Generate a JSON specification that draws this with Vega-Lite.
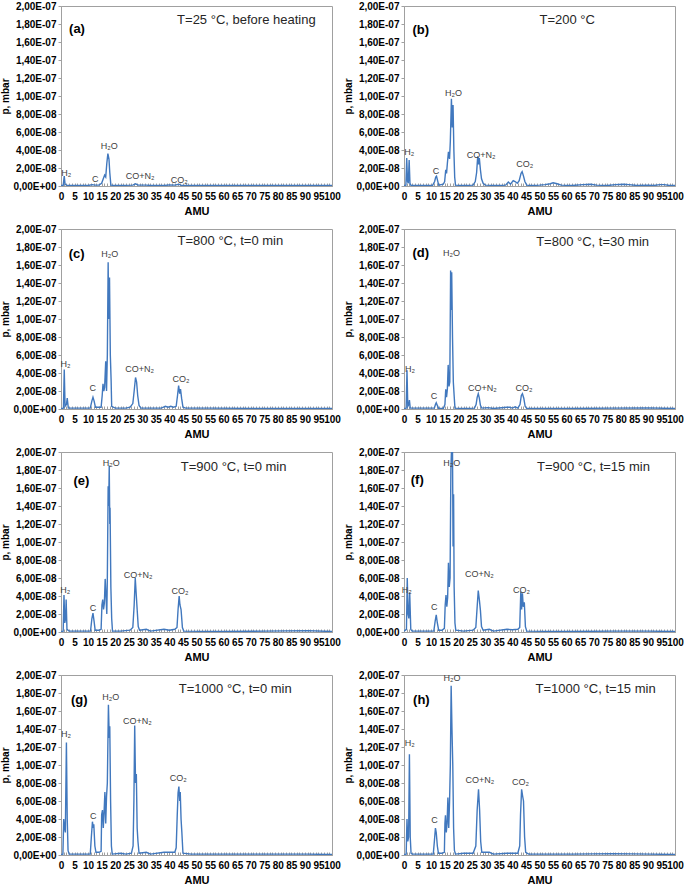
{
"$schema": "https://vega.github.io/schema/vega-lite/v6.json",
"padding": {"left": 0, "top": 0, "right": 0, "bottom": 0},
"background": "white",
"data": {"values": [
{"g":"a","x":0,"p":5e-10},{"g":"a","x":0.8,"p":5e-10},{"g":"a","x":1.2,"p":1.1e-8},{"g":"a","x":1.5,"p":2e-9},{"g":"a","x":2,"p":1e-9},{"g":"a","x":3,"p":5e-10},{"g":"a","x":10,"p":5e-10},{"g":"a","x":11.5,"p":1.5e-9},{"g":"a","x":12.5,"p":1e-9},{"g":"a","x":14,"p":1e-9},{"g":"a","x":15,"p":3e-9},{"g":"a","x":15.6,"p":8e-9},{"g":"a","x":16.1,"p":1.2e-8},{"g":"a","x":16.5,"p":1e-8},{"g":"a","x":16.9,"p":2.5e-8},{"g":"a","x":17.3,"p":3.6e-8},{"g":"a","x":17.7,"p":3e-8},{"g":"a","x":18,"p":1.5e-8},{"g":"a","x":18.4,"p":1e-9},{"g":"a","x":20,"p":5e-10},{"g":"a","x":26.5,"p":1e-9},{"g":"a","x":27.5,"p":2.5e-9},{"g":"a","x":28.5,"p":1e-9},{"g":"a","x":31.5,"p":1e-9},{"g":"a","x":33,"p":5e-10},{"g":"a","x":38,"p":5e-10},{"g":"a","x":40,"p":1.2e-9},{"g":"a","x":42,"p":1e-9},{"g":"a","x":43.5,"p":2e-9},{"g":"a","x":44.5,"p":5e-10},{"g":"a","x":50,"p":5e-10},{"g":"a","x":75,"p":5e-10},{"g":"a","x":100,"p":5e-10},
{"g":"b","x":0,"p":5e-10},{"g":"b","x":0.7,"p":1e-9},{"g":"b","x":1,"p":3.1e-8},{"g":"b","x":1.3,"p":5e-9},{"g":"b","x":1.6,"p":3e-9},{"g":"b","x":1.9,"p":2.9e-8},{"g":"b","x":2.2,"p":3e-9},{"g":"b","x":2.6,"p":5e-10},{"g":"b","x":10.5,"p":5e-10},{"g":"b","x":11.3,"p":5e-9},{"g":"b","x":11.7,"p":1e-8},{"g":"b","x":12,"p":1.1e-8},{"g":"b","x":12.4,"p":6e-9},{"g":"b","x":12.8,"p":1e-9},{"g":"b","x":14.5,"p":2e-9},{"g":"b","x":15,"p":5e-9},{"g":"b","x":15.4,"p":1.8e-8},{"g":"b","x":15.7,"p":1.4e-8},{"g":"b","x":16,"p":2.5e-8},{"g":"b","x":16.4,"p":3.8e-8},{"g":"b","x":16.8,"p":3e-8},{"g":"b","x":17.1,"p":5e-8},{"g":"b","x":17.5,"p":9.7e-8},{"g":"b","x":17.8,"p":6.5e-8},{"g":"b","x":18.1,"p":9e-8},{"g":"b","x":18.4,"p":4e-8},{"g":"b","x":18.7,"p":1e-8},{"g":"b","x":19,"p":1e-9},{"g":"b","x":22,"p":5e-10},{"g":"b","x":25.5,"p":1e-9},{"g":"b","x":26.3,"p":5e-9},{"g":"b","x":26.8,"p":1.5e-8},{"g":"b","x":27.2,"p":3.3e-8},{"g":"b","x":27.5,"p":2.4e-8},{"g":"b","x":27.8,"p":3.1e-8},{"g":"b","x":28.2,"p":1.8e-8},{"g":"b","x":28.6,"p":8e-9},{"g":"b","x":29.2,"p":3e-9},{"g":"b","x":30,"p":1e-9},{"g":"b","x":35,"p":5e-10},{"g":"b","x":37.5,"p":1e-9},{"g":"b","x":38.5,"p":4.5e-9},{"g":"b","x":39.3,"p":2e-9},{"g":"b","x":40.3,"p":6e-9},{"g":"b","x":41,"p":5e-9},{"g":"b","x":41.8,"p":3e-9},{"g":"b","x":42.5,"p":6e-9},{"g":"b","x":43.2,"p":1.4e-8},{"g":"b","x":43.6,"p":1.6e-8},{"g":"b","x":44.1,"p":1.1e-8},{"g":"b","x":44.6,"p":5e-9},{"g":"b","x":45.3,"p":1e-9},{"g":"b","x":47,"p":5e-10},{"g":"b","x":50,"p":1e-9},{"g":"b","x":52,"p":1.5e-9},{"g":"b","x":54,"p":2.5e-9},{"g":"b","x":55,"p":3.5e-9},{"g":"b","x":56.5,"p":2.5e-9},{"g":"b","x":58,"p":1e-9},{"g":"b","x":62,"p":5e-10},{"g":"b","x":66,"p":1.5e-9},{"g":"b","x":69,"p":2e-9},{"g":"b","x":71,"p":1e-9},{"g":"b","x":75,"p":5e-10},{"g":"b","x":78,"p":1.5e-9},{"g":"b","x":81,"p":2e-9},{"g":"b","x":83,"p":1.5e-9},{"g":"b","x":86,"p":5e-10},{"g":"b","x":90,"p":1e-9},{"g":"b","x":92,"p":5e-10},{"g":"b","x":94.5,"p":1.5e-9},{"g":"b","x":96,"p":1.5e-9},{"g":"b","x":98,"p":5e-10},{"g":"b","x":100,"p":5e-10},
{"g":"c","x":0,"p":5e-10},{"g":"c","x":0.9,"p":1e-9},{"g":"c","x":1.2,"p":4.4e-8},{"g":"c","x":1.5,"p":3e-9},{"g":"c","x":2,"p":5e-9},{"g":"c","x":2.3,"p":1.2e-8},{"g":"c","x":2.7,"p":1e-9},{"g":"c","x":5,"p":1e-9},{"g":"c","x":8,"p":1e-9},{"g":"c","x":10.8,"p":1e-9},{"g":"c","x":11.4,"p":9e-9},{"g":"c","x":11.8,"p":1.3e-8},{"g":"c","x":12.2,"p":9e-9},{"g":"c","x":12.7,"p":2e-9},{"g":"c","x":14,"p":2e-9},{"g":"c","x":14.8,"p":2e-9},{"g":"c","x":15.2,"p":1.5e-8},{"g":"c","x":15.5,"p":2.8e-8},{"g":"c","x":15.8,"p":2e-8},{"g":"c","x":16.1,"p":2.4e-8},{"g":"c","x":16.5,"p":5.3e-8},{"g":"c","x":16.8,"p":2e-8},{"g":"c","x":17.1,"p":6e-8},{"g":"c","x":17.4,"p":1.63e-7},{"g":"c","x":17.6,"p":1e-7},{"g":"c","x":17.9,"p":1.46e-7},{"g":"c","x":18.2,"p":6e-8},{"g":"c","x":18.5,"p":3.1e-8},{"g":"c","x":18.7,"p":3e-9},{"g":"c","x":20,"p":1e-9},{"g":"c","x":24,"p":1e-9},{"g":"c","x":25.5,"p":2e-9},{"g":"c","x":26.5,"p":6e-9},{"g":"c","x":27,"p":2e-8},{"g":"c","x":27.5,"p":3.5e-8},{"g":"c","x":27.9,"p":3e-8},{"g":"c","x":28.3,"p":1.5e-8},{"g":"c","x":28.8,"p":4e-9},{"g":"c","x":29.5,"p":1e-9},{"g":"c","x":32,"p":1e-9},{"g":"c","x":37,"p":1e-9},{"g":"c","x":38.5,"p":3e-9},{"g":"c","x":39.5,"p":2e-9},{"g":"c","x":40.5,"p":3e-9},{"g":"c","x":41.5,"p":2e-9},{"g":"c","x":42.5,"p":3e-9},{"g":"c","x":43,"p":1.5e-8},{"g":"c","x":43.4,"p":2.6e-8},{"g":"c","x":43.8,"p":1.7e-8},{"g":"c","x":44.1,"p":2.2e-8},{"g":"c","x":44.5,"p":1.2e-8},{"g":"c","x":45,"p":2e-9},{"g":"c","x":46,"p":1e-9},{"g":"c","x":55,"p":1e-9},{"g":"c","x":80,"p":5e-10},{"g":"c","x":100,"p":5e-10},
{"g":"d","x":0,"p":5e-10},{"g":"d","x":0.8,"p":1e-9},{"g":"d","x":1.1,"p":4.3e-8},{"g":"d","x":1.4,"p":3e-9},{"g":"d","x":1.8,"p":5e-9},{"g":"d","x":2,"p":1e-8},{"g":"d","x":2.3,"p":1e-9},{"g":"d","x":8,"p":1e-9},{"g":"d","x":11.2,"p":1e-9},{"g":"d","x":11.6,"p":5e-9},{"g":"d","x":11.9,"p":7e-9},{"g":"d","x":12.3,"p":4e-9},{"g":"d","x":12.8,"p":5e-10},{"g":"d","x":14.5,"p":5e-10},{"g":"d","x":15.1,"p":5e-9},{"g":"d","x":15.4,"p":2.2e-8},{"g":"d","x":15.7,"p":1.3e-8},{"g":"d","x":16,"p":2.2e-8},{"g":"d","x":16.3,"p":4.9e-8},{"g":"d","x":16.6,"p":2.5e-8},{"g":"d","x":16.9,"p":3e-8},{"g":"d","x":17.2,"p":1.54e-7},{"g":"d","x":17.4,"p":1.1e-7},{"g":"d","x":17.6,"p":1.52e-7},{"g":"d","x":17.9,"p":8e-8},{"g":"d","x":18.2,"p":3e-8},{"g":"d","x":18.5,"p":1.5e-8},{"g":"d","x":18.8,"p":1e-9},{"g":"d","x":22,"p":5e-10},{"g":"d","x":26,"p":1e-9},{"g":"d","x":26.6,"p":5e-9},{"g":"d","x":27,"p":1.3e-8},{"g":"d","x":27.4,"p":1.7e-8},{"g":"d","x":27.8,"p":1.2e-8},{"g":"d","x":28.2,"p":4e-9},{"g":"d","x":28.7,"p":1e-9},{"g":"d","x":31,"p":1.5e-9},{"g":"d","x":33,"p":5e-10},{"g":"d","x":38,"p":2e-9},{"g":"d","x":39,"p":2e-9},{"g":"d","x":40,"p":1e-9},{"g":"d","x":41,"p":2.5e-9},{"g":"d","x":42,"p":1e-9},{"g":"d","x":42.8,"p":5e-9},{"g":"d","x":43.3,"p":1.5e-8},{"g":"d","x":43.7,"p":1.7e-8},{"g":"d","x":44.2,"p":1.2e-8},{"g":"d","x":44.7,"p":3e-9},{"g":"d","x":45.3,"p":5e-10},{"g":"d","x":60,"p":5e-10},{"g":"d","x":77,"p":1e-9},{"g":"d","x":90,"p":1.2e-9},{"g":"d","x":100,"p":5e-10},
{"g":"e","x":0,"p":5e-10},{"g":"e","x":0.8,"p":1e-9},{"g":"e","x":1.1,"p":4.1e-8},{"g":"e","x":1.4,"p":1e-8},{"g":"e","x":1.7,"p":1.5e-8},{"g":"e","x":1.9,"p":3.6e-8},{"g":"e","x":2.2,"p":3e-9},{"g":"e","x":3,"p":1e-9},{"g":"e","x":8,"p":1e-9},{"g":"e","x":10.9,"p":1e-9},{"g":"e","x":11.4,"p":1.5e-8},{"g":"e","x":11.8,"p":2.1e-8},{"g":"e","x":12.2,"p":1.2e-8},{"g":"e","x":12.6,"p":2e-9},{"g":"e","x":14,"p":2e-9},{"g":"e","x":14.8,"p":3e-9},{"g":"e","x":15.1,"p":3e-8},{"g":"e","x":15.4,"p":3.6e-8},{"g":"e","x":15.7,"p":2.5e-8},{"g":"e","x":16,"p":3.2e-8},{"g":"e","x":16.3,"p":5.9e-8},{"g":"e","x":16.6,"p":4e-8},{"g":"e","x":16.9,"p":2e-8},{"g":"e","x":17.1,"p":6e-8},{"g":"e","x":17.4,"p":1.62e-7},{"g":"e","x":17.6,"p":1.4e-7},{"g":"e","x":17.8,"p":1.85e-7},{"g":"e","x":18,"p":1.2e-7},{"g":"e","x":18.1,"p":1.38e-7},{"g":"e","x":18.4,"p":5e-8},{"g":"e","x":18.7,"p":1.5e-8},{"g":"e","x":19,"p":1e-9},{"g":"e","x":22,"p":1e-9},{"g":"e","x":25.5,"p":2e-9},{"g":"e","x":26.5,"p":5e-9},{"g":"e","x":27,"p":3e-8},{"g":"e","x":27.4,"p":6e-8},{"g":"e","x":27.8,"p":4e-8},{"g":"e","x":28.1,"p":2.5e-8},{"g":"e","x":28.5,"p":6e-9},{"g":"e","x":29,"p":2e-9},{"g":"e","x":31.5,"p":3e-9},{"g":"e","x":33,"p":1e-9},{"g":"e","x":38,"p":3e-9},{"g":"e","x":40,"p":2e-9},{"g":"e","x":42,"p":3e-9},{"g":"e","x":42.8,"p":5e-9},{"g":"e","x":43.2,"p":2.5e-8},{"g":"e","x":43.6,"p":4e-8},{"g":"e","x":43.9,"p":3e-8},{"g":"e","x":44.3,"p":2.5e-8},{"g":"e","x":44.8,"p":5e-9},{"g":"e","x":45.3,"p":1e-9},{"g":"e","x":60,"p":5e-10},{"g":"e","x":75,"p":1e-9},{"g":"e","x":91,"p":1.5e-9},{"g":"e","x":100,"p":5e-10},
{"g":"f","x":0,"p":1e-9},{"g":"f","x":0.9,"p":3e-9},{"g":"f","x":1.2,"p":6e-8},{"g":"f","x":1.5,"p":2e-8},{"g":"f","x":1.8,"p":1.5e-8},{"g":"f","x":2.1,"p":4.4e-8},{"g":"f","x":2.5,"p":3e-9},{"g":"f","x":3,"p":1e-9},{"g":"f","x":8,"p":1e-9},{"g":"f","x":11,"p":1e-9},{"g":"f","x":11.5,"p":1.2e-8},{"g":"f","x":11.9,"p":1.9e-8},{"g":"f","x":12.3,"p":1e-8},{"g":"f","x":12.8,"p":2e-9},{"g":"f","x":14,"p":2e-9},{"g":"f","x":14.9,"p":4e-9},{"g":"f","x":15.2,"p":3e-8},{"g":"f","x":15.5,"p":4.1e-8},{"g":"f","x":15.8,"p":2.8e-8},{"g":"f","x":16.1,"p":3.8e-8},{"g":"f","x":16.4,"p":7.7e-8},{"g":"f","x":16.7,"p":5e-8},{"g":"f","x":17,"p":6e-8},{"g":"f","x":17.3,"p":1.8e-7},{"g":"f","x":17.5,"p":2e-7},{"g":"f","x":17.7,"p":1.9e-7},{"g":"f","x":17.9,"p":2e-7},{"g":"f","x":18.1,"p":9.5e-8},{"g":"f","x":18.3,"p":1.53e-7},{"g":"f","x":18.5,"p":5e-8},{"g":"f","x":18.8,"p":1e-8},{"g":"f","x":19.1,"p":2e-9},{"g":"f","x":22,"p":1e-9},{"g":"f","x":25.5,"p":2e-9},{"g":"f","x":26.5,"p":5e-9},{"g":"f","x":27,"p":2.8e-8},{"g":"f","x":27.4,"p":4.6e-8},{"g":"f","x":27.8,"p":3.6e-8},{"g":"f","x":28.2,"p":2.4e-8},{"g":"f","x":28.6,"p":6e-9},{"g":"f","x":29.2,"p":2e-9},{"g":"f","x":31.5,"p":3e-9},{"g":"f","x":33,"p":1e-9},{"g":"f","x":38,"p":3e-9},{"g":"f","x":40,"p":2.5e-9},{"g":"f","x":42,"p":3e-9},{"g":"f","x":42.7,"p":5e-9},{"g":"f","x":43.1,"p":4.5e-8},{"g":"f","x":43.4,"p":2.5e-8},{"g":"f","x":43.7,"p":4.3e-8},{"g":"f","x":44,"p":2.8e-8},{"g":"f","x":44.4,"p":3.3e-8},{"g":"f","x":44.8,"p":6e-9},{"g":"f","x":45.3,"p":1e-9},{"g":"f","x":60,"p":5e-10},{"g":"f","x":77,"p":1e-9},{"g":"f","x":90,"p":1e-9},{"g":"f","x":100,"p":5e-10},
{"g":"g","x":0,"p":5e-10},{"g":"g","x":0.7,"p":1e-9},{"g":"g","x":1,"p":4e-8},{"g":"g","x":1.3,"p":3e-8},{"g":"g","x":1.6,"p":2.5e-8},{"g":"g","x":2,"p":1.25e-7},{"g":"g","x":2.3,"p":4e-8},{"g":"g","x":2.6,"p":5e-9},{"g":"g","x":3,"p":1e-9},{"g":"g","x":8,"p":1e-9},{"g":"g","x":10.8,"p":1e-9},{"g":"g","x":11.2,"p":2e-8},{"g":"g","x":11.6,"p":3.7e-8},{"g":"g","x":11.9,"p":3e-8},{"g":"g","x":12.1,"p":3.4e-8},{"g":"g","x":12.5,"p":1e-8},{"g":"g","x":12.9,"p":3e-9},{"g":"g","x":14,"p":3e-9},{"g":"g","x":14.8,"p":4e-9},{"g":"g","x":15,"p":4.5e-8},{"g":"g","x":15.3,"p":5e-8},{"g":"g","x":15.6,"p":3e-8},{"g":"g","x":15.9,"p":4.8e-8},{"g":"g","x":16.2,"p":7e-8},{"g":"g","x":16.5,"p":3.5e-8},{"g":"g","x":16.8,"p":6.5e-8},{"g":"g","x":17.1,"p":8e-8},{"g":"g","x":17.5,"p":1.67e-7},{"g":"g","x":17.8,"p":1.3e-7},{"g":"g","x":18,"p":1.43e-7},{"g":"g","x":18.3,"p":6e-8},{"g":"g","x":18.6,"p":1e-8},{"g":"g","x":18.9,"p":1e-9},{"g":"g","x":22,"p":2e-9},{"g":"g","x":24,"p":1e-9},{"g":"g","x":26,"p":2e-9},{"g":"g","x":26.6,"p":1e-8},{"g":"g","x":26.9,"p":6e-8},{"g":"g","x":27.2,"p":1.44e-7},{"g":"g","x":27.5,"p":8e-8},{"g":"g","x":27.8,"p":9e-8},{"g":"g","x":28.1,"p":3e-8},{"g":"g","x":28.4,"p":1.5e-8},{"g":"g","x":28.8,"p":2e-9},{"g":"g","x":31.5,"p":3e-9},{"g":"g","x":33,"p":1e-9},{"g":"g","x":38,"p":3e-9},{"g":"g","x":40,"p":3e-9},{"g":"g","x":42,"p":3e-9},{"g":"g","x":42.5,"p":8e-9},{"g":"g","x":42.9,"p":4.5e-8},{"g":"g","x":43.2,"p":6.9e-8},{"g":"g","x":43.5,"p":7.6e-8},{"g":"g","x":43.8,"p":6e-8},{"g":"g","x":44,"p":7e-8},{"g":"g","x":44.3,"p":4e-8},{"g":"g","x":44.6,"p":2.5e-8},{"g":"g","x":45,"p":2e-9},{"g":"g","x":48,"p":1e-9},{"g":"g","x":62,"p":1e-9},{"g":"g","x":77,"p":1e-9},{"g":"g","x":91,"p":1e-9},{"g":"g","x":100,"p":5e-10},
{"g":"h","x":0,"p":5e-10},{"g":"h","x":0.8,"p":1e-9},{"g":"h","x":1.1,"p":4e-8},{"g":"h","x":1.4,"p":1.5e-8},{"g":"h","x":1.7,"p":2e-8},{"g":"h","x":2,"p":1.12e-7},{"g":"h","x":2.3,"p":2e-8},{"g":"h","x":2.6,"p":2e-9},{"g":"h","x":3,"p":1e-9},{"g":"h","x":8,"p":1e-9},{"g":"h","x":10.8,"p":1e-9},{"g":"h","x":11.2,"p":1.5e-8},{"g":"h","x":11.6,"p":3e-8},{"g":"h","x":11.9,"p":2.5e-8},{"g":"h","x":12.3,"p":1e-8},{"g":"h","x":12.7,"p":2e-9},{"g":"h","x":14,"p":2e-9},{"g":"h","x":14.9,"p":3e-9},{"g":"h","x":15.1,"p":3.5e-8},{"g":"h","x":15.3,"p":4.4e-8},{"g":"h","x":15.6,"p":2.5e-8},{"g":"h","x":15.9,"p":3.5e-8},{"g":"h","x":16.2,"p":6.4e-8},{"g":"h","x":16.5,"p":3e-8},{"g":"h","x":16.8,"p":5.8e-8},{"g":"h","x":17.1,"p":1e-7},{"g":"h","x":17.4,"p":1.88e-7},{"g":"h","x":17.7,"p":1.4e-7},{"g":"h","x":18,"p":1e-7},{"g":"h","x":18.3,"p":3e-8},{"g":"h","x":18.6,"p":5e-9},{"g":"h","x":19,"p":1e-9},{"g":"h","x":22,"p":2e-9},{"g":"h","x":25.5,"p":2e-9},{"g":"h","x":26.5,"p":1e-8},{"g":"h","x":27,"p":5e-8},{"g":"h","x":27.5,"p":7.3e-8},{"g":"h","x":27.9,"p":5e-8},{"g":"h","x":28.3,"p":1.5e-8},{"g":"h","x":28.7,"p":3e-9},{"g":"h","x":31.5,"p":3e-9},{"g":"h","x":33,"p":1e-9},{"g":"h","x":38,"p":2e-9},{"g":"h","x":40,"p":2e-9},{"g":"h","x":42,"p":2e-9},{"g":"h","x":42.7,"p":1e-8},{"g":"h","x":43,"p":4.5e-8},{"g":"h","x":43.4,"p":7.3e-8},{"g":"h","x":43.8,"p":6.5e-8},{"g":"h","x":44.1,"p":6e-8},{"g":"h","x":44.5,"p":2e-8},{"g":"h","x":44.9,"p":3e-9},{"g":"h","x":46,"p":1e-9},{"g":"h","x":62,"p":1e-9},{"g":"h","x":77,"p":1.5e-9},{"g":"h","x":91,"p":1e-9},{"g":"h","x":100,"p":5e-10},
{"g":"a","k":"T","x":68.4,"p":1.85e-7,"t":"T=25 °C, before heating"},
{"g":"b","k":"T","x":60.2,"p":1.85e-7,"t":"T=200 °C"},
{"g":"c","k":"T","x":62.5,"p":1.87e-7,"t":"T=800 °C, t=0 min"},
{"g":"d","k":"T","x":69.6,"p":1.86e-7,"t":"T=800 °C, t=30 min"},
{"g":"e","k":"T","x":63.7,"p":1.83e-7,"t":"T=900 °C, t=0 min"},
{"g":"f","k":"T","x":69.9,"p":1.83e-7,"t":"T=900 °C, t=15 min"},
{"g":"g","k":"T","x":64.3,"p":1.845e-7,"t":"T=1000 °C, t=0 min"},
{"g":"h","k":"T","x":70.7,"p":1.84e-7,"t":"T=1000 °C, t=15 min"},
{"g":"a","k":"tag","x":5.9,"p":1.74e-7,"t":"(a)"},
{"g":"b","k":"tag","x":6.2,"p":1.73e-7,"t":"(b)"},
{"g":"c","k":"tag","x":5.75,"p":1.72e-7,"t":"(c)"},
{"g":"d","k":"tag","x":6.2,"p":1.73e-7,"t":"(d)"},
{"g":"e","k":"tag","x":7.5,"p":1.68e-7,"t":"(e)"},
{"g":"f","k":"tag","x":4.9,"p":1.685e-7,"t":"(f)"},
{"g":"g","k":"tag","x":6.75,"p":1.72e-7,"t":"(g)"},
{"g":"h","k":"tag","x":6.4,"p":1.72e-7,"t":"(h)"},
{"g":"a","k":"l","x":1.9,"p":1.5e-8,"t":"H₂"},{"g":"a","k":"l","x":12.6,"p":8e-9,"t":"C"},{"g":"a","k":"l","x":17.8,"p":4.46e-8,"t":"H₂O"},{"g":"a","k":"l","x":29.2,"p":1.1e-8,"t":"CO+N₂"},{"g":"a","k":"l","x":43.6,"p":6.6e-9,"t":"CO₂"},
{"g":"b","k":"l","x":1.9,"p":3.8e-8,"t":"H₂"},{"g":"b","k":"l","x":11.8,"p":1.7e-8,"t":"C"},{"g":"b","k":"l","x":18.3,"p":1.035e-7,"t":"H₂O"},{"g":"b","k":"l","x":28.5,"p":3.4e-8,"t":"CO+N₂"},{"g":"b","k":"l","x":44.6,"p":2.4e-8,"t":"CO₂"},
{"g":"c","k":"l","x":1.7,"p":5.05e-8,"t":"H₂"},{"g":"c","k":"l","x":11.75,"p":2.3e-8,"t":"C"},{"g":"c","k":"l","x":18,"p":1.72e-7,"t":"H₂O"},{"g":"c","k":"l","x":29,"p":4.4e-8,"t":"CO+N₂"},{"g":"c","k":"l","x":44.3,"p":3.3e-8,"t":"CO₂"},
{"g":"d","k":"l","x":2.2,"p":4.45e-8,"t":"H₂"},{"g":"d","k":"l","x":11.1,"p":1.4e-8,"t":"C"},{"g":"d","k":"l","x":17.5,"p":1.73e-7,"t":"H₂O"},{"g":"d","k":"l","x":28.9,"p":2.3e-8,"t":"CO+N₂"},{"g":"d","k":"l","x":44.3,"p":2.3e-8,"t":"CO₂"},
{"g":"e","k":"l","x":1.6,"p":4.7e-8,"t":"H₂"},{"g":"e","k":"l","x":11.8,"p":2.7e-8,"t":"C"},{"g":"e","k":"l","x":18.5,"p":1.88e-7,"t":"H₂O"},{"g":"e","k":"l","x":28.5,"p":6.3e-8,"t":"CO+N₂"},{"g":"e","k":"l","x":43.9,"p":4.6e-8,"t":"CO₂"},
{"g":"f","k":"l","x":1.0,"p":4.7e-8,"t":"H₂"},{"g":"f","k":"l","x":11.2,"p":2.8e-8,"t":"C"},{"g":"f","k":"l","x":17.6,"p":1.88e-7,"t":"H₂O"},{"g":"f","k":"l","x":27.8,"p":6.5e-8,"t":"CO+N₂"},{"g":"f","k":"l","x":43.4,"p":4.7e-8,"t":"CO₂"},
{"g":"g","k":"l","x":1.8,"p":1.35e-7,"t":"H₂"},{"g":"g","k":"l","x":11.9,"p":4.35e-8,"t":"C"},{"g":"g","k":"l","x":18.4,"p":1.76e-7,"t":"H₂O"},{"g":"g","k":"l","x":28.2,"p":1.49e-7,"t":"CO+N₂"},{"g":"g","k":"l","x":43.3,"p":8.6e-8,"t":"CO₂"},
{"g":"h","k":"l","x":2.1,"p":1.24e-7,"t":"H₂"},{"g":"h","k":"l","x":11.3,"p":3.9e-8,"t":"C"},{"g":"h","k":"l","x":17.7,"p":1.97e-7,"t":"H₂O"},{"g":"h","k":"l","x":28,"p":8.3e-8,"t":"CO+N₂"},{"g":"h","k":"l","x":43,"p":8.1e-8,"t":"CO₂"}
]},
"vconcat": [
 {"hconcat": [
  {"transform":[{"filter":"datum.g=='a'"}],"width":271,"height":180,
   "encoding":{"x":{"field":"x","type":"quantitative","title":"AMU","scale":{"domain":[0,100],"nice":false},"axis":{"tickCount":100}},"y":{"field":"p","type":"quantitative","title":"p, mbar","scale":{"domain":[0,2e-7],"nice":false},"axis":{"tickCount":10}}},
   "layer":[{"transform":[{"filter":"!datum.k"}],"mark":{"type":"line","color":"#4178be","strokeWidth":1.4,"clip":true}},
    {"transform":[{"filter":"datum.k=='l'"}],"mark":{"type":"text","font":"Liberation Sans","fontSize":9,"color":"#404040","align":"center","baseline":"middle"},"encoding":{"text":{"field":"t"}}},
    {"transform":[{"filter":"datum.k=='T'"}],"mark":{"type":"text","font":"Liberation Sans","fontSize":13,"color":"#262626","align":"center","baseline":"middle"},"encoding":{"text":{"field":"t"}}},
    {"transform":[{"filter":"datum.k=='tag'"}],"mark":{"type":"text","font":"Liberation Sans","fontSize":13,"fontWeight":"bold","color":"#000000","align":"center","baseline":"middle"},"encoding":{"text":{"field":"t"}}}]},
  {"transform":[{"filter":"datum.g=='b'"}],"width":271,"height":180,
   "encoding":{"x":{"field":"x","type":"quantitative","title":"AMU","scale":{"domain":[0,100],"nice":false},"axis":{"tickCount":100}},"y":{"field":"p","type":"quantitative","title":"p, mbar","scale":{"domain":[0,2e-7],"nice":false},"axis":{"tickCount":10}}},
   "layer":[{"transform":[{"filter":"!datum.k"}],"mark":{"type":"line","color":"#4178be","strokeWidth":1.4,"clip":true}},
    {"transform":[{"filter":"datum.k=='l'"}],"mark":{"type":"text","font":"Liberation Sans","fontSize":9,"color":"#404040","align":"center","baseline":"middle"},"encoding":{"text":{"field":"t"}}},
    {"transform":[{"filter":"datum.k=='T'"}],"mark":{"type":"text","font":"Liberation Sans","fontSize":13,"color":"#262626","align":"center","baseline":"middle"},"encoding":{"text":{"field":"t"}}},
    {"transform":[{"filter":"datum.k=='tag'"}],"mark":{"type":"text","font":"Liberation Sans","fontSize":13,"fontWeight":"bold","color":"#000000","align":"center","baseline":"middle"},"encoding":{"text":{"field":"t"}}}]}
 ], "spacing": 72, "bounds": "flush"},
 {"hconcat": [
  {"transform":[{"filter":"datum.g=='c'"}],"width":271,"height":180,
   "encoding":{"x":{"field":"x","type":"quantitative","title":"AMU","scale":{"domain":[0,100],"nice":false},"axis":{"tickCount":100}},"y":{"field":"p","type":"quantitative","title":"p, mbar","scale":{"domain":[0,2e-7],"nice":false},"axis":{"tickCount":10}}},
   "layer":[{"transform":[{"filter":"!datum.k"}],"mark":{"type":"line","color":"#4178be","strokeWidth":1.4,"clip":true}},
    {"transform":[{"filter":"datum.k=='l'"}],"mark":{"type":"text","font":"Liberation Sans","fontSize":9,"color":"#404040","align":"center","baseline":"middle"},"encoding":{"text":{"field":"t"}}},
    {"transform":[{"filter":"datum.k=='T'"}],"mark":{"type":"text","font":"Liberation Sans","fontSize":13,"color":"#262626","align":"center","baseline":"middle"},"encoding":{"text":{"field":"t"}}},
    {"transform":[{"filter":"datum.k=='tag'"}],"mark":{"type":"text","font":"Liberation Sans","fontSize":13,"fontWeight":"bold","color":"#000000","align":"center","baseline":"middle"},"encoding":{"text":{"field":"t"}}}]},
  {"transform":[{"filter":"datum.g=='d'"}],"width":271,"height":180,
   "encoding":{"x":{"field":"x","type":"quantitative","title":"AMU","scale":{"domain":[0,100],"nice":false},"axis":{"tickCount":100}},"y":{"field":"p","type":"quantitative","title":"p, mbar","scale":{"domain":[0,2e-7],"nice":false},"axis":{"tickCount":10}}},
   "layer":[{"transform":[{"filter":"!datum.k"}],"mark":{"type":"line","color":"#4178be","strokeWidth":1.4,"clip":true}},
    {"transform":[{"filter":"datum.k=='l'"}],"mark":{"type":"text","font":"Liberation Sans","fontSize":9,"color":"#404040","align":"center","baseline":"middle"},"encoding":{"text":{"field":"t"}}},
    {"transform":[{"filter":"datum.k=='T'"}],"mark":{"type":"text","font":"Liberation Sans","fontSize":13,"color":"#262626","align":"center","baseline":"middle"},"encoding":{"text":{"field":"t"}}},
    {"transform":[{"filter":"datum.k=='tag'"}],"mark":{"type":"text","font":"Liberation Sans","fontSize":13,"fontWeight":"bold","color":"#000000","align":"center","baseline":"middle"},"encoding":{"text":{"field":"t"}}}]}
 ], "spacing": 72, "bounds": "flush"},
 {"hconcat": [
  {"transform":[{"filter":"datum.g=='e'"}],"width":271,"height":180,
   "encoding":{"x":{"field":"x","type":"quantitative","title":"AMU","scale":{"domain":[0,100],"nice":false},"axis":{"tickCount":100}},"y":{"field":"p","type":"quantitative","title":"p, mbar","scale":{"domain":[0,2e-7],"nice":false},"axis":{"tickCount":10}}},
   "layer":[{"transform":[{"filter":"!datum.k"}],"mark":{"type":"line","color":"#4178be","strokeWidth":1.4,"clip":true}},
    {"transform":[{"filter":"datum.k=='l'"}],"mark":{"type":"text","font":"Liberation Sans","fontSize":9,"color":"#404040","align":"center","baseline":"middle"},"encoding":{"text":{"field":"t"}}},
    {"transform":[{"filter":"datum.k=='T'"}],"mark":{"type":"text","font":"Liberation Sans","fontSize":13,"color":"#262626","align":"center","baseline":"middle"},"encoding":{"text":{"field":"t"}}},
    {"transform":[{"filter":"datum.k=='tag'"}],"mark":{"type":"text","font":"Liberation Sans","fontSize":13,"fontWeight":"bold","color":"#000000","align":"center","baseline":"middle"},"encoding":{"text":{"field":"t"}}}]},
  {"transform":[{"filter":"datum.g=='f'"}],"width":271,"height":180,
   "encoding":{"x":{"field":"x","type":"quantitative","title":"AMU","scale":{"domain":[0,100],"nice":false},"axis":{"tickCount":100}},"y":{"field":"p","type":"quantitative","title":"p, mbar","scale":{"domain":[0,2e-7],"nice":false},"axis":{"tickCount":10}}},
   "layer":[{"transform":[{"filter":"!datum.k"}],"mark":{"type":"line","color":"#4178be","strokeWidth":1.4,"clip":true}},
    {"transform":[{"filter":"datum.k=='l'"}],"mark":{"type":"text","font":"Liberation Sans","fontSize":9,"color":"#404040","align":"center","baseline":"middle"},"encoding":{"text":{"field":"t"}}},
    {"transform":[{"filter":"datum.k=='T'"}],"mark":{"type":"text","font":"Liberation Sans","fontSize":13,"color":"#262626","align":"center","baseline":"middle"},"encoding":{"text":{"field":"t"}}},
    {"transform":[{"filter":"datum.k=='tag'"}],"mark":{"type":"text","font":"Liberation Sans","fontSize":13,"fontWeight":"bold","color":"#000000","align":"center","baseline":"middle"},"encoding":{"text":{"field":"t"}}}]}
 ], "spacing": 72, "bounds": "flush"},
 {"hconcat": [
  {"transform":[{"filter":"datum.g=='g'"}],"width":271,"height":180,
   "encoding":{"x":{"field":"x","type":"quantitative","title":"AMU","scale":{"domain":[0,100],"nice":false},"axis":{"tickCount":100}},"y":{"field":"p","type":"quantitative","title":"p, mbar","scale":{"domain":[0,2e-7],"nice":false},"axis":{"tickCount":10}}},
   "layer":[{"transform":[{"filter":"!datum.k"}],"mark":{"type":"line","color":"#4178be","strokeWidth":1.4,"clip":true}},
    {"transform":[{"filter":"datum.k=='l'"}],"mark":{"type":"text","font":"Liberation Sans","fontSize":9,"color":"#404040","align":"center","baseline":"middle"},"encoding":{"text":{"field":"t"}}},
    {"transform":[{"filter":"datum.k=='T'"}],"mark":{"type":"text","font":"Liberation Sans","fontSize":13,"color":"#262626","align":"center","baseline":"middle"},"encoding":{"text":{"field":"t"}}},
    {"transform":[{"filter":"datum.k=='tag'"}],"mark":{"type":"text","font":"Liberation Sans","fontSize":13,"fontWeight":"bold","color":"#000000","align":"center","baseline":"middle"},"encoding":{"text":{"field":"t"}}}]},
  {"transform":[{"filter":"datum.g=='h'"}],"width":271,"height":180,
   "encoding":{"x":{"field":"x","type":"quantitative","title":"AMU","scale":{"domain":[0,100],"nice":false},"axis":{"tickCount":100}},"y":{"field":"p","type":"quantitative","title":"p, mbar","scale":{"domain":[0,2e-7],"nice":false},"axis":{"tickCount":10}}},
   "layer":[{"transform":[{"filter":"!datum.k"}],"mark":{"type":"line","color":"#4178be","strokeWidth":1.4,"clip":true}},
    {"transform":[{"filter":"datum.k=='l'"}],"mark":{"type":"text","font":"Liberation Sans","fontSize":9,"color":"#404040","align":"center","baseline":"middle"},"encoding":{"text":{"field":"t"}}},
    {"transform":[{"filter":"datum.k=='T'"}],"mark":{"type":"text","font":"Liberation Sans","fontSize":13,"color":"#262626","align":"center","baseline":"middle"},"encoding":{"text":{"field":"t"}}},
    {"transform":[{"filter":"datum.k=='tag'"}],"mark":{"type":"text","font":"Liberation Sans","fontSize":13,"fontWeight":"bold","color":"#000000","align":"center","baseline":"middle"},"encoding":{"text":{"field":"t"}}}]}
 ], "spacing": 72, "bounds": "flush"}
],
"spacing": 6,
"config": {
  "view": {"stroke": "#a0a0a0"},
  "axisX": {"labelExpr": "datum.value % 5 == 0 ? datum.label : ''", "labelOverlap": false, "labelFlush": false, "grid": false,
    "tickSize": -3, "labelPadding": 8, "tickColor": "#a0a0a0", "domainColor": "#a0a0a0",
    "labelFont": "Liberation Sans", "labelFontWeight": "bold", "labelFontSize": 10, "labelColor": "#000000",
    "titleFont": "Liberation Sans", "titleFontWeight": "bold", "titleFontSize": 11, "titleColor": "#000000", "titlePadding": 4},
  "axisY": {"labelExpr": "datum.value < 1e-12 ? '0,00E+00' : datum.value >= 9.9e-8 ? replace(format(datum.value*1e7,'.2f'),'.',',') + 'E-07' : replace(format(datum.value*1e8,'.2f'),'.',',') + 'E-08'",
    "grid": false, "tickSize": 3, "labelPadding": 2, "tickColor": "#a0a0a0", "domainColor": "#a0a0a0",
    "labelFont": "Liberation Sans", "labelFontWeight": "bold", "labelFontSize": 10, "labelColor": "#000000",
    "titleFont": "Liberation Sans", "titleFontWeight": "bold", "titleFontSize": 10, "titleColor": "#000000", "titlePadding": 2}
}
}
